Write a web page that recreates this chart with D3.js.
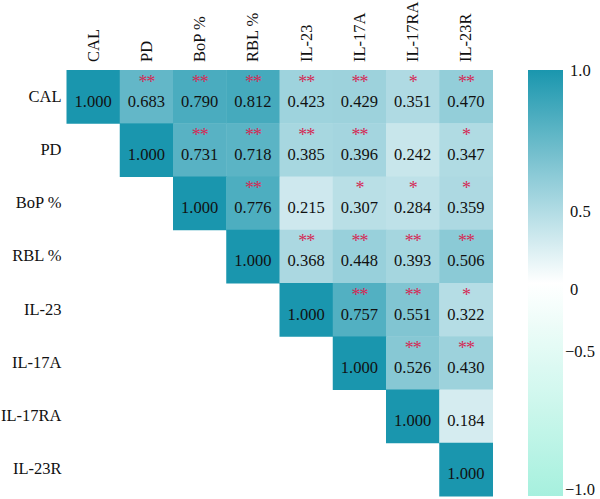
<!DOCTYPE html>
<html>
<head>
<meta charset="utf-8">
<script src="https://cdn.jsdelivr.net/npm/d3@7"></script>
<style>
  body { margin: 0; background: #fff; }
  text { font-family: "Liberation Serif", "DejaVu Serif", serif; fill: #111; }
</style>
</head>
<body>
<div class="chart"></div>
<script>
var svgWidth = 600;
var svgHeight = 499;

// variables, rows and columns share the same order
var variables = ["CAL", "PD", "BoP %", "RBL %", "IL-23", "IL-17A", "IL-17RA", "IL-23R"];

// upper triangle, row by row (starting at the diagonal)
var corrValues = [
  [1.000, 0.683, 0.790, 0.812, 0.423, 0.429, 0.351, 0.470],
  [1.000, 0.731, 0.718, 0.385, 0.396, 0.242, 0.347],
  [1.000, 0.776, 0.215, 0.307, 0.284, 0.359],
  [1.000, 0.368, 0.448, 0.393, 0.506],
  [1.000, 0.757, 0.551, 0.322],
  [1.000, 0.526, 0.430],
  [1.000, 0.184],
  [1.000]
];

var significance = [
  ["", "**", "**", "**", "**", "**", "*", "**"],
  ["", "**", "**", "**", "**", "", "*"],
  ["", "**", "", "*", "*", "*"],
  ["", "**", "**", "**", "**"],
  ["", "**", "**", "*"],
  ["", "**", "**"],
  ["", ""],
  [""]
];

var colorTicks = [1.0, 0.5, 0, -0.5, -1.0];
var colorTickLabels = ["1.0", "0.5", "0", "\u22120.5", "\u22121.0"];

var grid = { left: 66.5, top: 70, size: 426 };
var bar = { left: 528, width: 35, top: 70, bottom: 496 };

var svg = d3.select(".chart")
  .append("svg")
  .attr("width", svgWidth)
  .attr("height", svgHeight);

// flatten the triangle into cells
var cells = [];
corrValues.forEach(function(row, i) {
  row.forEach(function(v, k) {
    cells.push({ row: i, col: i + k, value: v, sig: significance[i][k] });
  });
});

var x = d3.scaleBand()
  .domain(variables)
  .range([grid.left, grid.left + grid.size]);

var y = d3.scaleBand()
  .domain(variables)
  .range([grid.top, grid.top + grid.size]);

var color = d3.scaleLinear()
  .domain([-1, 0, 1])
  .range(["#a6f0de", "#ffffff", "#1a96ae"]);

// cells
svg.append("g").selectAll("rect")
  .data(cells)
  .enter()
  .append("rect")
  .attr("x", d => x(variables[d.col]))
  .attr("y", d => y(variables[d.row]))
  .attr("width", x.bandwidth() + 0.5)
  .attr("height", y.bandwidth() + 0.5)
  .attr("fill", d => color(d.value));

// values
svg.append("g").selectAll("text")
  .data(cells)
  .enter()
  .append("text")
  .attr("x", d => x(variables[d.col]) + x.bandwidth() / 2)
  .attr("y", d => y(variables[d.row]) + y.bandwidth() / 2 + 10)
  .attr("text-anchor", "middle")
  .attr("font-size", 16.5)
  .text(d => d.value.toFixed(3));

// stars
svg.append("g").selectAll("text")
  .data(cells.filter(d => d.sig))
  .enter()
  .append("text")
  .attr("x", d => x(variables[d.col]) + x.bandwidth() / 2)
  .attr("y", d => y(variables[d.row]) + 17.5)
  .attr("text-anchor", "middle")
  .attr("font-size", 18)
  .attr("letter-spacing", -1)
  .style("fill", "#d42a55")
  .text(d => d.sig);

// row labels
svg.append("g").selectAll("text")
  .data(variables)
  .enter()
  .append("text")
  .attr("x", grid.left - 5)
  .attr("y", d => y(d) + y.bandwidth() / 2 + 5)
  .attr("text-anchor", "end")
  .attr("font-size", 16.5)
  .text(d => d);

// column labels
svg.append("g").selectAll("text")
  .data(variables)
  .enter()
  .append("text")
  .attr("transform", d => `translate(${x(d) + x.bandwidth() / 2 + 5.5}, ${grid.top - 8}) rotate(-90)`)
  .attr("font-size", 16.5)
  .text(d => d);

// colour bar
var defs = svg.append("defs");
var grad = defs.append("linearGradient")
  .attr("id", "cbar")
  .attr("x1", 0).attr("y1", 1)
  .attr("x2", 0).attr("y2", 0);

d3.range(-1, 1.001, 0.1).forEach(function(t) {
  grad.append("stop")
    .attr("offset", ((t + 1) / 2 * 100) + "%")
    .attr("stop-color", color(t));
});

svg.append("rect")
  .attr("x", bar.left)
  .attr("y", bar.top)
  .attr("width", bar.width)
  .attr("height", bar.bottom - bar.top)
  .attr("fill", "url(#cbar)");

// tick labels sit where the original figure put them
var tickY = d3.scaleLinear()
  .domain([-1, -0.5, 0, 0.5, 1])
  .range([490, 352, 290, 212, 71]);

svg.append("g").selectAll("text")
  .data(colorTicks)
  .enter()
  .append("text")
  .attr("x", d => d < 0 ? 565 : 570)
  .attr("y", d => tickY(d) + 5)
  .attr("font-size", 16.5)
  .text((d, i) => colorTickLabels[i]);
</script>
</body>
</html>
